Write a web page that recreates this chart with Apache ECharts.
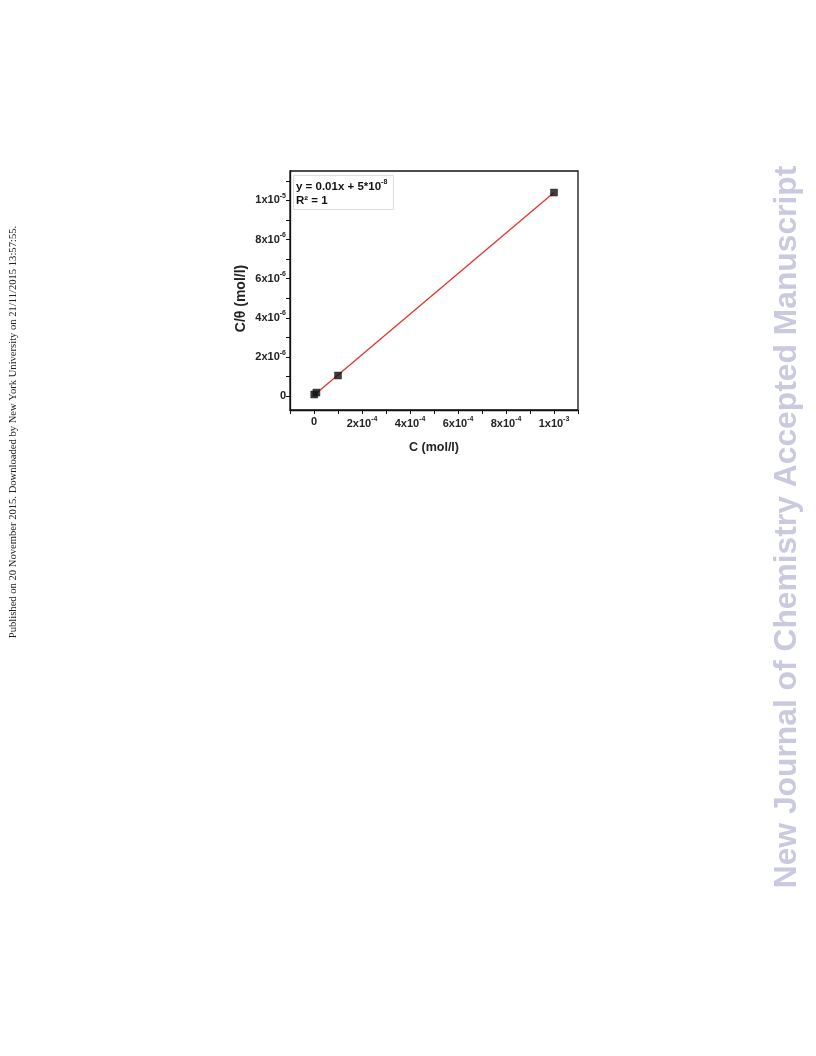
<!DOCTYPE html>
<html>
<head>
<meta charset="utf-8">
<script src="https://cdn.jsdelivr.net/npm/echarts@6/dist/echarts.min.js"></script>
<style>
html,body{margin:0;padding:0;background:#fff;}
#c{width:816px;height:1056px;}
</style>
</head>
<body>
<div id="c"></div>
<script>
// ---- data ----
const concX = [1e-6, 1e-5, 1e-4, 1e-3];
const ratioY = [9e-8, 1.9e-7, 1.06e-6, 1.04e-5];
const fitX = [0, 1e-3];
const fitY = [5e-8, 1.04e-5];
const xLabelValues = [0, 2e-4, 4e-4, 6e-4, 8e-4, 1e-3];
const xTickValues = [-1e-4, 0, 1e-4, 2e-4, 3e-4, 4e-4, 5e-4, 6e-4, 7e-4, 8e-4, 9e-4, 1e-3, 1.1e-3];
const yLabelValues = [0, 2e-6, 4e-6, 6e-6, 8e-6, 1e-5];
const yTickValues = [0, 1e-6, 2e-6, 3e-6, 4e-6, 5e-6, 6e-6, 7e-6, 8e-6, 9e-6, 1e-5, 1.1e-5];
const fitText = ['y = 0.01x + 5*10', '-8'];
const r2Text = 'R² = 1';

function sci(v) {
  if (Math.abs(v) < 1e-15) return '{b|0}';
  const e = Math.floor(Math.log10(Math.abs(v)) + 1e-9);
  const m = Math.round(v / Math.pow(10, e));
  return '{b|' + m + 'x10}{s|' + e + '}';
}
const richLab = {
  b: {fontFamily: 'Liberation Sans, Arial', fontWeight: 'bold', fontSize: 11, color: '#222'},
  s: {fontFamily: 'Liberation Sans, Arial', fontWeight: 'bold', fontSize: 7, color: '#222', verticalAlign: 'bottom', padding: [0, 0, 9, 0]}
};

const chart = echarts.init(document.getElementById('c'), null, {renderer: 'canvas'});
const option = {
  backgroundColor: '#fff',
  animation: false,
  grid: {left: 290, top: 171, right: 238, bottom: 646, show: true, borderColor: '#111', borderWidth: 1.3, backgroundColor: 'transparent'},
  xAxis: {
    type: 'value', min: -1e-4, max: 1.1e-3,
    name: 'C (mol/l)', nameLocation: 'middle', nameGap: 31,
    nameTextStyle: {fontFamily: 'Liberation Sans, Arial', fontWeight: 'bold', fontSize: 12.5, color: '#222'},
    axisLine: {show: true, onZero: false, lineStyle: {color: '#111', width: 1.3}},
    axisTick: {show: true, length: 4, lineStyle: {color: '#111', width: 1}, customValues: xTickValues},
    axisLabel: {margin: 6, customValues: xLabelValues, formatter: sci, rich: richLab},
    splitLine: {show: false}
  },
  yAxis: {
    type: 'value', min: -7e-7, max: 1.15e-5,
    name: 'C/θ (mol/l)', nameLocation: 'middle', nameGap: 42,
    nameTextStyle: {fontFamily: 'Liberation Sans, Arial', fontWeight: 'bold', fontSize: 14, color: '#222', padding: [0, 16, 0, 0]},
    axisLine: {show: true, onZero: false, lineStyle: {color: '#111', width: 1.3}},
    axisTick: {show: true, length: 4, lineStyle: {color: '#111', width: 1}, customValues: yTickValues},
    axisLabel: {margin: 4, customValues: yLabelValues, formatter: sci, rich: richLab},
    splitLine: {show: false}
  },
  series: [
    {
      type: 'line', data: fitX.map((x, i) => [x, fitY[i]]),
      showSymbol: false, symbol: 'none', z: 2,
      lineStyle: {color: '#e8302c', width: 1.3}
    },
    {
      type: 'scatter', data: concX.map((x, i) => [x, ratioY[i]]),
      symbol: 'rect', symbolSize: 7, z: 3,
      itemStyle: {color: '#111', borderColor: '#000', borderWidth: 0.5}
    }
  ],
  graphic: [
    {
      type: 'rect', left: 293, top: 175, z: 10,
      shape: {width: 100, height: 34},
      style: {fill: '#fff', stroke: '#dcdcdc', lineWidth: 1}
    },
    {
      type: 'text', left: 296, top: 179, z: 11,
      style: {
        text: '{b|' + fitText[0] + '}{s|' + fitText[1] + '}\n{b|' + r2Text + '}',
        rich: {
          b: {fontFamily: 'Liberation Sans, Arial', fontWeight: 'bold', fontSize: 11.5, fill: '#111', lineHeight: 14},
          s: {fontFamily: 'Liberation Sans, Arial', fontWeight: 'bold', fontSize: 7, fill: '#111', verticalAlign: 'bottom', padding: [0, 0, 8, 0], lineHeight: 14}
        }
      }
    },
    {
      type: 'text', x: 13, y: 432, rotation: Math.PI / 2, z: 11,
      style: {
        text: 'Published on 20 November 2015. Downloaded by New York University on 21/11/2015 13:57:55.',
        fontFamily: 'Liberation Serif, Times New Roman', fontSize: 10.6, fill: '#222',
        align: 'center', verticalAlign: 'middle'
      }
    },
    {
      type: 'text', x: 787, y: 527, rotation: Math.PI / 2, z: 11,
      style: {
        text: 'New Journal of Chemistry Accepted Manuscript',
        fontFamily: 'Liberation Sans, Arial', fontWeight: 'bold', fontSize: 31.8, fill: '#c9c9df',
        align: 'center', verticalAlign: 'middle'
      }
    }
  ]
};
chart.setOption(option);
</script>
</body>
</html>
